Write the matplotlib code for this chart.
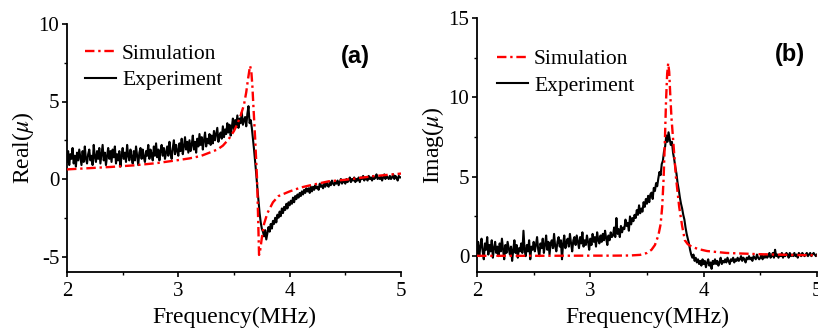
import numpy as np
import matplotlib.pyplot as plt

plt.rcParams['font.family'] = ['Liberation Serif', 'DejaVu Serif']
plt.rcParams['mathtext.fontset'] = 'stix'
plt.rcParams['axes.unicode_minus'] = False

# measured spectrum, one point every 0.01 MHz from 2 to 5 MHz
freq_exp = np.linspace(2.0, 5.0, 301)

real_exp = [
    1.1, 1.8, 0.9, 1.6, 1.3, 2.0, 1.0, 1.5, 0.8, 1.7,
    1.2, 1.9, 1.4, 0.9, 1.8, 1.1, 2.1, 1.3, 1.0, 1.6,
    1.9, 1.2, 1.5, 0.9, 2.2, 1.4, 1.1, 1.8, 1.3, 2.0,
    1.0, 1.6, 2.2, 1.2, 1.7, 0.9, 1.5, 2.0, 1.3, 1.8,
    1.1, 1.9, 1.4, 2.1, 1.0, 1.6, 1.2, 1.8, 0.8, 1.5,
    2.0, 1.3, 1.7, 1.1, 2.2, 1.5, 1.2, 1.9, 1.4, 1.0,
    1.8, 1.2, 2.1, 1.5, 0.9, 1.7, 2.0, 1.3, 1.9, 1.4,
    1.1, 1.8, 1.5, 2.2, 1.3, 1.9, 1.6, 1.2, 2.1, 1.5,
    2.3, 1.4, 1.9, 1.2, 1.8, 2.2, 1.5, 2.0, 1.3, 1.7,
    2.1, 1.5, 2.4, 1.7, 1.3, 2.0, 2.5, 1.6, 2.2, 1.8,
    1.5, 2.3, 1.8, 2.6, 1.6, 2.1, 2.7, 1.9, 2.4, 1.7,
    2.5, 1.8, 2.2, 2.8, 1.9, 2.4, 1.7, 2.6, 2.1, 2.9,
    2.2, 2.7, 1.9, 2.5, 3.0, 2.1, 2.6, 2.3, 2.9, 2.2,
    2.8, 2.3, 3.1, 2.5, 2.9, 3.3, 2.4, 2.8, 3.0, 2.6,
    3.4, 2.7, 3.2, 2.9, 3.6, 3.0, 3.5, 2.8, 3.3, 3.9,
    3.2, 3.8, 3.4, 4.1, 3.3, 3.9, 3.6, 4.3, 3.5, 3.8,
    4.0, 3.4, 4.2, 4.7, 3.6, 3.8, 3.3, 2.6, 1.9, 1.1,
    0.3, -0.6, -1.4, -2.2, -2.8, -3.2, -3.4, -3.7, -3.3, -3.9,
    -3.5, -3.1, -3.4, -2.9, -3.2, -2.7, -2.9, -2.5, -2.8, -2.3,
    -2.5, -2.1, -2.4, -1.9, -2.2, -1.8, -2.0, -1.6, -1.9, -1.5,
    -1.7, -1.4, -1.6, -1.2, -1.5, -1.1, -1.3, -1.0, -1.2, -0.9,
    -1.1, -0.8, -1.0, -0.7, -0.9, -0.6, -0.8, -0.6, -0.9, -0.5,
    -0.8, -0.5, -0.7, -0.4, -0.6, -0.5, -0.7, -0.3, -0.5, -0.4,
    -0.6, -0.3, -0.5, -0.2, -0.4, -0.5, -0.2, -0.4, -0.1, -0.3,
    -0.4, -0.2, -0.3, -0.1, -0.4, -0.2, 0.0, -0.3, -0.1, -0.2,
    -0.3, 0.0, -0.2, -0.1, 0.1, -0.2, 0.0, -0.1, 0.1, -0.2,
    0.0, -0.1, 0.1, -0.2, 0.1, 0.0, 0.2, -0.1, 0.1, 0.0,
    -0.1, 0.2, 0.0, 0.1, -0.1, 0.2, 0.0, 0.1, 0.3, 0.0,
    0.1, 0.0, 0.2, -0.1, 0.1, 0.3, 0.0, 0.2, 0.1, 0.0,
    0.2, 0.0, 0.1, 0.3, 0.0, 0.2, 0.1, -0.1, 0.2, 0.1,
    0.1,
]

imag_exp = [
    0.2, 0.9, 0.0, 0.6, 1.1, 0.3, -0.2, 0.8, 0.4, 1.2,
    0.1, 0.7, 0.3, 1.0, -0.1, 0.5, 0.9, 0.2, 0.6, 0.0,
    0.8, 0.3, 1.1, 0.4, -0.2, 0.7, 0.2, 0.9, 0.5, 0.1,
    0.6, -0.3, 0.4, 1.0, 0.2, 0.7, -0.1, 0.5, 0.3, 0.8,
    0.2, 1.6, 0.4, 0.0, 0.7, 0.3, 1.0, -0.2, 0.6, 0.4,
    0.9, 0.3, 0.7, 1.2, 0.4, 0.0, 0.8, 0.5, 1.1, 0.2,
    0.7, 1.3, 0.4, 0.9, 0.1, 0.8, 1.0, 0.5, 1.4, 0.6,
    0.3, 0.9, 1.2, 0.6, 1.0, -0.2, 0.8, 1.3, 0.5, 0.9,
    1.1, 0.6, 1.4, 0.8, 0.3, 1.0, 1.2, 0.7, 1.3, 0.9,
    0.5, 1.2, 0.8, 1.5, 0.6, 1.0, 0.7, 1.3, 0.9, 0.4,
    1.1, 0.7, 1.4, 0.9, 1.2, 0.6, 1.5, 1.0, 0.8, 1.3,
    0.9, 1.4, 1.0, 1.6, 1.1, 0.7, 1.3, 1.0, 1.5, 1.2,
    1.3, 1.8, 1.2, 2.4, 1.4, 1.7, 1.2, 1.9, 1.5, 1.8,
    1.7, 2.3, 1.9, 2.1, 1.6, 2.5, 2.0, 2.4, 2.2, 2.6,
    2.4, 2.9, 2.6, 3.2, 2.7, 3.0, 2.8, 3.4, 3.1, 3.6,
    3.3, 3.8, 3.4, 3.9, 4.0, 3.6, 4.3, 4.1, 4.6, 4.4,
    4.9, 5.3, 5.1, 5.8, 6.0, 6.6, 6.9, 7.6, 7.2, 7.8,
    7.4, 7.0, 7.2, 6.5, 6.1, 5.6, 5.2, 4.6, 4.2, 3.7,
    3.3, 3.0, 2.6, 2.3, 1.8, 1.4, 1.1, 0.8, 0.4, 0.1,
    -0.1, 0.1, -0.3, -0.1, -0.4, -0.2, -0.5, -0.3, -0.6, -0.2,
    -0.5, -0.3, -0.7, -0.4, -0.2, -0.6, -0.4, -0.8, -0.3, -0.5,
    -0.2, -0.5, -0.3, -0.6, -0.4, -0.1, -0.5, -0.3, -0.4, -0.2,
    -0.4, -0.1, -0.3, -0.5, -0.2, -0.3, -0.1, -0.4, -0.2, -0.3,
    -0.1, -0.3, -0.2, 0.0, -0.3, -0.1, -0.2, -0.4, -0.1, -0.2,
    0.0, -0.2, -0.1, -0.3, 0.0, -0.1, -0.2, 0.1, -0.1, -0.2,
    -0.1, 0.1, -0.2, 0.0, -0.1, 0.1, -0.1, 0.0, 0.2, -0.1,
    0.0, 0.2, -0.1, 0.4, 0.0, 0.1, -0.1, 0.1, 0.0, 0.2,
    -0.1, 0.1, 0.0, 0.2, 0.1, -0.1, 0.2, 0.0, 0.1, 0.0,
    0.2, 0.0, 0.1, -0.1, 0.2, 0.1, 0.0, 0.2, 0.1, 0.0,
    0.1, 0.2, 0.0, 0.1, 0.2, 0.0, 0.1, 0.2, 0.1, 0.0,
    0.1,
]

# simulated curves
freq_sim_a = [2.0, 2.2, 2.4, 2.6, 2.8, 3.0, 3.1, 3.2, 3.28, 3.35,
              3.4, 3.45, 3.5, 3.53, 3.56, 3.59, 3.61, 3.625, 3.644, 3.655,
              3.665, 3.675, 3.69, 3.707, 3.717, 3.725, 3.735, 3.75, 3.77, 3.8,
              3.85, 3.9, 4.0, 4.1, 4.2, 4.35, 4.5, 4.75, 5.0]
real_sim = [0.62, 0.7, 0.78, 0.88, 1.02, 1.22, 1.33, 1.48, 1.7, 1.9,
            2.15, 2.55, 3.1, 3.55, 4.1, 4.8, 5.6, 6.4, 7.3, 7.0,
            6.0, 4.6, 2.6, 0.0, -2.6, -4.9, -4.6, -3.8, -2.9, -2.2,
            -1.5, -1.1, -0.8, -0.55, -0.38, -0.15, -0.05, 0.18, 0.35]

freq_sim_b = [2.0, 2.5, 3.0, 3.2, 3.35, 3.44, 3.5, 3.54, 3.57, 3.6,
              3.62, 3.634, 3.646, 3.658, 3.668, 3.678, 3.687, 3.696, 3.705, 3.716,
              3.731, 3.755, 3.784, 3.81, 3.834, 3.86, 3.893, 3.95, 4.03, 4.2,
              4.5, 4.8, 5.0]
imag_sim = [0.02, 0.02, 0.03, 0.03, 0.04, 0.08, 0.2, 0.4, 0.7, 1.3,
            2.0, 3.1, 4.8, 7.3, 9.8, 11.5, 12.15, 11.6, 10.2, 8.7,
            7.3, 5.0, 3.1, 1.9, 1.0, 0.75, 0.6, 0.45, 0.32, 0.2,
            0.12, 0.07, 0.05]

W, H = 818, 331
fig = plt.figure(figsize=(W / 100, H / 100), dpi=100)
ax_a = fig.add_axes([67 / W, 1 - 272 / H, 334 / W, 248 / H])
ax_b = fig.add_axes([477 / W, 1 - 272 / H, 340 / W, 254 / H])

dash = (0, (4, 1.6, 1, 1.6))


def style_axes(ax, ylim, yticks, ylabel, anchor):
    ax.set_xlim(2, 5)
    ax.set_ylim(*ylim)
    ax.set_xticks([2, 3, 4, 5])
    ax.set_xticks([2.5, 3.5, 4.5], minor=True)
    ax.set_yticks(yticks)
    ax.set_yticks([t + (yticks[1] - yticks[0]) / 2 for t in yticks[:-1]], minor=True)
    for s in ['top', 'right']:
        ax.spines[s].set_visible(False)
    for s in ['left', 'bottom']:
        ax.spines[s].set_linewidth(1.3)
    ax.tick_params(which='major', direction='out', length=3.5, width=1.2, labelsize=15, pad=2)
    ax.tick_params(axis='x', which='major', pad=4)
    ax.tick_params(which='minor', direction='out', length=2, width=1.0)
    ax.set_xlabel('Frequency(MHz)', fontsize=17, labelpad=4)
    ax.set_ylabel(ylabel, fontsize=17, labelpad=2)
    ax.legend(loc='upper left', frameon=False, fontsize=15.5, handlelength=1.4,
              handletextpad=0.3, labelspacing=0.3, borderpad=0, borderaxespad=0,
              bbox_to_anchor=anchor)


ax_a.plot(freq_sim_a, real_sim, color='#ff0000', lw=1.7, linestyle=dash, label='Simulation', zorder=3)
ax_a.plot(freq_exp, real_exp, color='black', lw=1.5, label='Experiment', zorder=2)
style_axes(ax_a, (-6, 10), [-5, 0, 5, 10], r'Real($\mu$)', (0.055, 0.92))

ax_b.plot(freq_sim_b, imag_sim, color='#ff0000', lw=1.7, linestyle=dash, label='Simulation', zorder=3)
ax_b.plot(freq_exp, imag_exp, color='black', lw=1.5, label='Experiment', zorder=2)
style_axes(ax_b, (-1, 15), [0, 5, 10, 15], r'Imag($\mu$)', (0.06, 0.877))

fig.text(355 / W, 1 - 57 / H, '(a)', family='Liberation Sans', weight='bold',
         fontsize=17, ha='center', va='center')
fig.text(790 / W, 1 - 55 / H, '(b)', family='Liberation Sans', weight='bold',
         fontsize=17, ha='center', va='center')

fig.savefig('out.png', dpi=100)
